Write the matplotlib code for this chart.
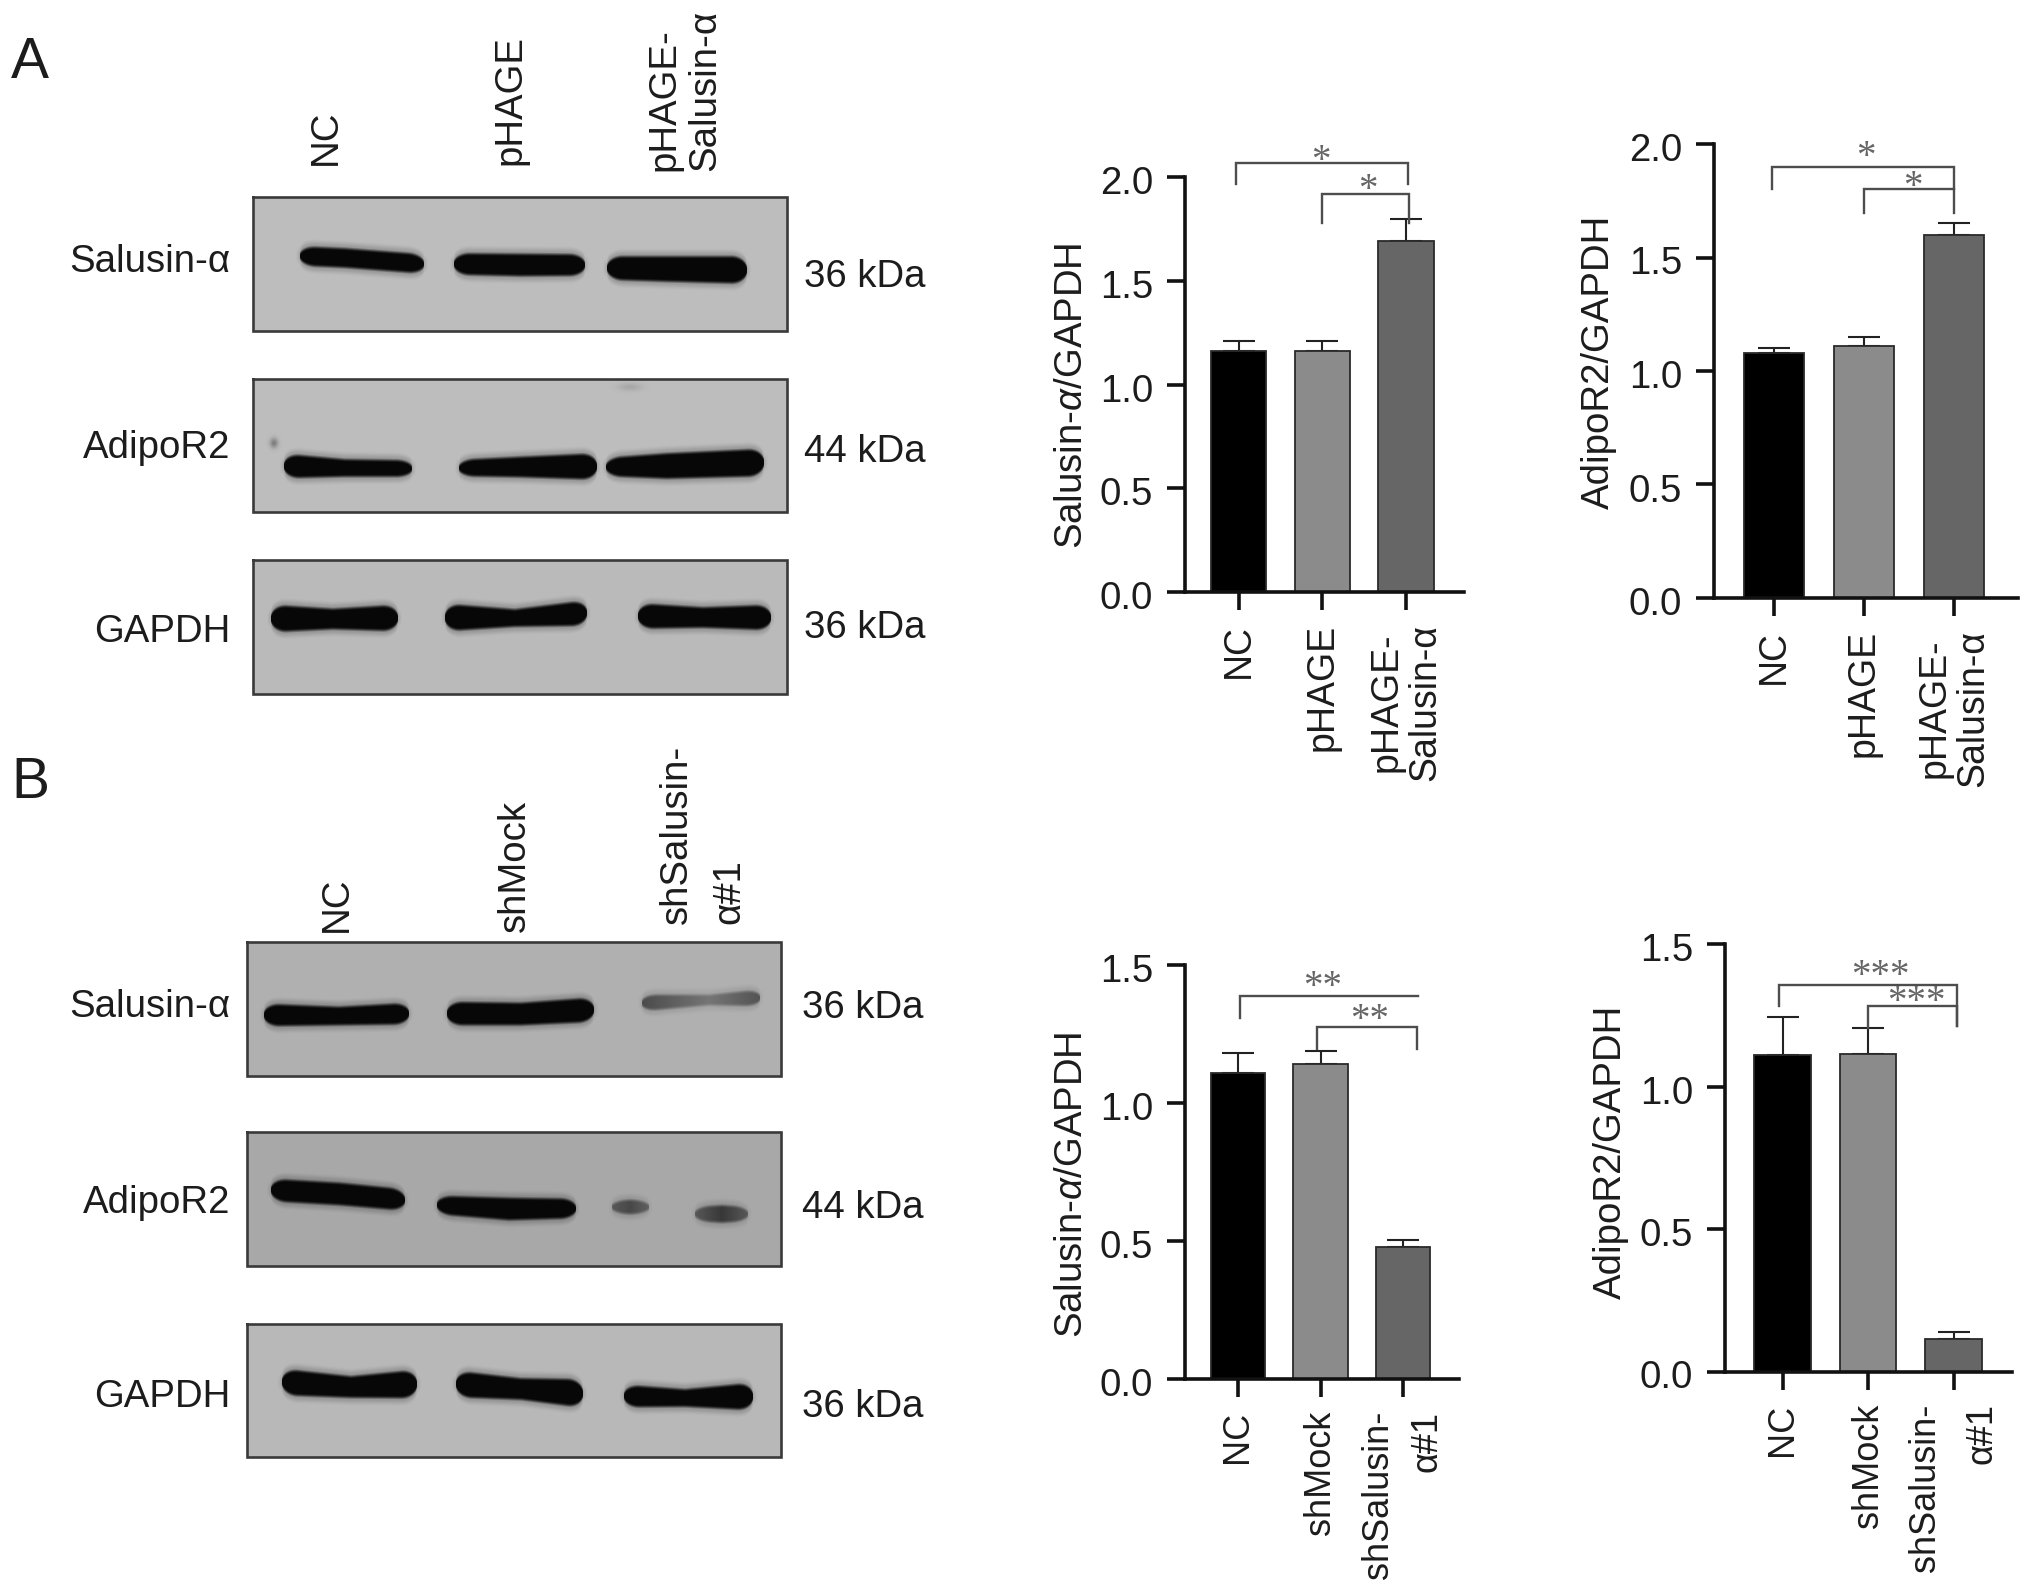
import numpy as np
import matplotlib
matplotlib.use("Agg")
import matplotlib.pyplot as plt
from matplotlib.transforms import Affine2D, ScaledTranslation

plt.rcParams['font.family'] = ['Liberation Sans', 'DejaVu Sans']
plt.rcParams['mathtext.fontset'] = 'custom'
plt.rcParams['mathtext.rm'] = 'Liberation Sans'
plt.rcParams['mathtext.it'] = 'Liberation Sans:italic'
plt.rcParams['mathtext.bf'] = 'Liberation Sans:bold'

W, H = 2032, 1593

# ---------- bar chart data ----------
CATS_A = ['NC', 'pHAGE', 'pHAGE-\nSalusin-α']
CATS_B = ['NC', 'shMock', 'shSalusin-\nα#1']
A1_VALUES = [1.16, 1.16, 1.69]
A1_ERR = [0.05, 0.05, 0.11]
A2_VALUES = [1.08, 1.11, 1.60]
A2_ERR = [0.02, 0.04, 0.05]
B1_VALUES = [1.11, 1.14, 0.48]
B1_ERR = [0.07, 0.05, 0.025]
B2_VALUES = [1.11, 1.115, 0.115]
B2_ERR = [0.135, 0.09, 0.025]
TICKS_2 = [0.0, 0.5, 1.0, 1.5, 2.0]
TICKS_15 = [0.0, 0.5, 1.0, 1.5]
BAR_COLORS = ['#000000', '#8b8b8b', '#666666']

# brackets: (left x, right x, y, left tail y, right tail y)
A1_BRACKETS = [(-0.03, 2.02, 2.069, 1.965, 1.965), (1.0, 2.04, 1.918, 1.777, 1.777)]
A2_BRACKETS = [(-0.02, 2.0, 1.899, 1.80, 1.80), (1.0, 2.0, 1.80, 1.695, 1.695)]
B1_BRACKETS = [(0.02, 2.18, 1.386, 1.308, 1.386), (0.96, 2.17, 1.274, 1.196, 1.196)]
B2_BRACKETS = [(-0.04, 2.04, 1.357, 1.282, 1.214), (1.0, 2.04, 1.284, 1.207, 1.214)]
# stars: (x, y, text)
A1_STARS = [(0.98, 2.075, '*'), (1.55, 1.935, '*')]
A2_STARS = [(1.02, 1.94, '*'), (1.54, 1.81, '*')]
B1_STARS = [(1.02, 1.42, '**'), (1.59, 1.30, '**')]
B2_STARS = [(1.14, 1.385, '***'), (1.57, 1.295, '***')]

# ---------- western blot content: band control points (x, y centre, half height, darkness) ----------
A_SAL = [
    [(300, 256, 8.5, 1), (345, 258, 8.5, 1), (424, 264, 8.5, 1)],
    [(454, 264, 9.5, 1), (520, 265, 10, 1), (585, 265, 9.5, 1)],
    [(607, 268, 10.5, 1), (670, 269, 11.5, 1), (747, 270, 12.5, 1)],
]
A_ADI = [
    [(284, 466, 11, 1), (345, 468, 7.5, 1), (412, 468.5, 7, 1)],
    [(459, 468, 7, 1), (520, 467, 9, 1), (597, 466.5, 12, 1)],
    [(606, 467, 8, 1), (667, 466, 11.5, 1), (764, 462.5, 12.5, 1)],
]
A_GAP = [
    [(271, 618.5, 12.5, 1), (333, 619, 9, 1), (398, 618, 12, 1)],
    [(445, 617.5, 12.5, 1), (515, 618, 7.5, 1), (587, 613, 11.5, 1)],
    [(638, 616, 11.5, 1), (703, 617.5, 9, 1), (771, 617.5, 11.5, 1)],
]
A_ADI_SPOTS = [(274, 443, 4, 5, 0.35), (630, 387, 12, 4, 0.12)]
B_SAL = [
    [(264, 1015, 10, 1), (339, 1016, 8, 1), (409, 1013.6, 9.5, 1)],
    [(447, 1013.5, 10.5, 1), (521, 1014, 10, 1), (594, 1009.7, 11, 1)],
    [(642, 1003, 7, 0.6), (709, 1000, 4, 0.35), (760, 997.8, 7, 0.55)],
]
B_ADI = [
    [(271, 1190, 10, 1), (340, 1194, 10, 1), (405, 1200, 9.5, 1)],
    [(437, 1205, 8, 1), (509, 1209, 10, 1), (576, 1208.5, 8.5, 1)],
    [(612, 1207, 5, 0.5), (630, 1207, 6, 0.6), (649, 1207, 5, 0.45)],
    [(695, 1214, 6, 0.5), (722, 1214, 7.5, 0.7), (748, 1214, 6, 0.5)],
]
B_GAP = [
    [(282, 1382, 12, 1), (351, 1387, 9.5, 1), (417, 1384, 13, 1)],
    [(456, 1384, 12, 1), (521, 1389, 9.5, 1), (583, 1393.5, 13, 1)],
    [(624, 1396, 10, 1), (685, 1398, 7.5, 1), (753, 1396.5, 12.5, 1)],
]

fig = plt.figure(figsize=(W / 100, H / 100), dpi=100, facecolor='white')
PX = Affine2D().scale(1 / W, -1 / H).translate(0, 1) + fig.transFigure
FS = 27.6
INK = '#1c1c1c'


def smooth(t):
    t = np.clip(t, 0, 1)
    return t * t * (3 - 2 * t)


def blot(bg_ax, x0, x1, y0, y1, bands, shade, spots=()):
    xs = np.arange(x0, x1) + 0.5
    ys = np.arange(y0, y1) + 0.5
    X, Y = np.meshgrid(xs, ys)
    I = np.zeros_like(X)
    for b in bands:
        b = np.array(b, dtype=float)
        xa, xb = b[0, 0], b[-1, 0]
        yc = np.interp(X, b[:, 0], b[:, 1])
        hh = np.interp(X, b[:, 0], b[:, 2])
        dk = np.interp(X, b[:, 0], b[:, 3])
        r = 16.0
        end = np.minimum(X - xa, xb - X)
        cap = np.sqrt(np.clip(1 - (np.clip(r - end, 0, r) / r) ** 2, 0, 1))
        hh = hh * cap
        dist = np.abs(Y - yc)
        core = smooth((hh + 4.5 - dist) / 6.0)
        glow = 0.22 * smooth((hh + 10.0 - dist) / 9.0) * smooth((end + 5.0) / 8.0)
        v = np.maximum(core * (hh > 0), glow)
        I = np.maximum(I, dk * v)
    for sx, sy, rx, ry, dk in spots:
        I = np.maximum(I, dk * np.exp(-((X - sx) / rx) ** 2 - ((Y - sy) / ry) ** 2))
    img = shade * (1 - I) + 0.03 * I
    bg_ax.imshow(img, cmap='gray', vmin=0, vmax=1, extent=(x0, x1, y1, y0),
                 aspect='auto', interpolation='bilinear', zorder=1)
    bg_ax.plot([x0, x1, x1, x0, x0], [y0, y0, y1, y1, y0], color='#3a3a3a', lw=1.9, zorder=2,
               solid_joinstyle='miter')


bg = fig.add_axes([0, 0, 1, 1])
blot(bg, 253, 787, 197, 331, A_SAL, 0.74)
blot(bg, 253, 787, 379, 512, A_ADI, 0.74, A_ADI_SPOTS)
blot(bg, 253, 787, 560, 694, A_GAP, 0.73)
blot(bg, 247, 781, 942, 1076, B_SAL, 0.69)
blot(bg, 247, 781, 1132, 1266, B_ADI, 0.66)
blot(bg, 247, 781, 1324, 1457, B_GAP, 0.72)
bg.set_xlim(0, W)
bg.set_ylim(H, 0)
bg.axis('off')


def txt(x, y, s, **kw):
    kw.setdefault('fontsize', FS)
    kw.setdefault('color', INK)
    fig.text(x, y, s, transform=PX, **kw)


txt(30, 63, 'A', fontsize=41, ha='center', va='center')
txt(30, 783, 'B', fontsize=41, ha='center', va='center')

for y, s in [(262, 'Salusin-α'), (448, 'AdipoR2'), (632, 'GAPDH'),
             (1007, 'Salusin-α'), (1203, 'AdipoR2'), (1397, 'GAPDH')]:
    txt(230, y, s, ha='right', va='center')
for x, y, s in [(804, 277, '36 kDa'), (804, 452, '44 kDa'), (804, 628, '36 kDa'),
                (802, 1008, '36 kDa'), (802, 1208, '44 kDa'), (802, 1407, '36 kDa')]:
    txt(x, y, s, ha='left', va='center')
for x, y, s, ls in [(326, 165, CATS_A[0], 1.0), (510, 165, CATS_A[1], 1.0), (685, 171, CATS_A[2], 1.15),
                    (337, 932, CATS_B[0], 1.0), (515, 932, CATS_B[1], 1.0), (703, 924, CATS_B[2], 1.6)]:
    txt(x, y, s, rotation=90, ha='center', va='bottom', multialignment='left', linespacing=ls)


def bars(box, xfirst, xstep, ymax, values, errs, ticks, cats, ma, ls, xfs, ylabel, lab_xy, brackets, stars):
    x0, x1, ytop, ybot = box
    ax = fig.add_axes([x0 / W, 1 - ybot / H, (x1 - x0) / W, (ybot - ytop) / H])
    ax.patch.set_alpha(0)
    pos = np.arange(len(values))
    ax.bar(pos, values, width=0.66, color=BAR_COLORS, edgecolor='#2a2a2a', linewidth=1.3, zorder=2)
    ax.errorbar(pos, values, yerr=[np.zeros(len(errs)), errs], fmt='none', ecolor='#222222',
                elinewidth=1.5, capsize=11.5, capthick=1.5, zorder=1)
    ax.set_xlim((x0 - xfirst) / xstep, (x1 - xfirst) / xstep)
    ax.set_ylim(0, ymax)
    for s in ('top', 'right'):
        ax.spines[s].set_visible(False)
    for s in ('left', 'bottom'):
        ax.spines[s].set_linewidth(2.6)
        ax.spines[s].set_color('#111111')
        ax.spines[s].set_zorder(5)
    ax.set_yticks(ticks)
    ax.set_yticklabels([f'{t:.1f}' for t in ticks], fontsize=FS, color=INK)
    ax.set_xticks(pos)
    ax.set_xticklabels(cats, rotation=90, fontsize=xfs, color=INK, ha='center', va='top',
                       multialignment=ma, linespacing=ls)
    ax.tick_params(axis='both', length=13, width=2.6, color='#111111')
    ax.tick_params(axis='x', pad=10)
    ax.tick_params(axis='y', pad=10)
    down = ScaledTranslation(0, -3 / 100, fig.dpi_scale_trans)
    for lab in ax.get_yticklabels():
        lab.set_transform(lab.get_transform() + down)
    ax.set_ylabel(ylabel, fontsize=FS, color=INK, ha='center', va='center')
    ax.yaxis.set_label_coords(lab_xy[0], lab_xy[1], transform=PX)
    for xl, xr, y, tl, tr in brackets:
        ax.plot([xl, xl, xr, xr], [tl, y, y, tr], color='#4d4d4d', lw=1.7, clip_on=False, zorder=3,
                solid_joinstyle='miter')
    for x, y, s in stars:
        ax.text(x, y, s, ha='center', va='center', fontsize=28, color='#666666',
                family='Liberation Serif', clip_on=False)
    return ax


bars((1185, 1464, 177, 592), 1238.5, 83.75, 2.0, A1_VALUES, A1_ERR, TICKS_2, CATS_A, 'center', 1.12, 27,
     'Salusin-$\\alpha$/GAPDH', (1072, 396), A1_BRACKETS, A1_STARS)
bars((1714, 2018, 144, 598), 1774, 90, 2.0, A2_VALUES, A2_ERR, TICKS_2, CATS_A, 'center', 1.12, 27,
     'AdipoR2/GAPDH', (1599, 362), A2_BRACKETS, A2_STARS)
bars((1185, 1459, 965, 1379), 1238, 82.5, 1.5, B1_VALUES, B1_ERR, TICKS_15, CATS_B, 'right', 1.5, 26,
     'Salusin-$\\alpha$/GAPDH', (1072, 1185), B1_BRACKETS, B1_STARS)
bars((1725, 2012, 944, 1371.5), 1782.6, 85.5, 1.5, B2_VALUES, B2_ERR, TICKS_15, CATS_B, 'right', 1.8, 26,
     'AdipoR2/GAPDH', (1611, 1152), B2_BRACKETS, B2_STARS)

fig.savefig('out.png', dpi=100, facecolor='white')
